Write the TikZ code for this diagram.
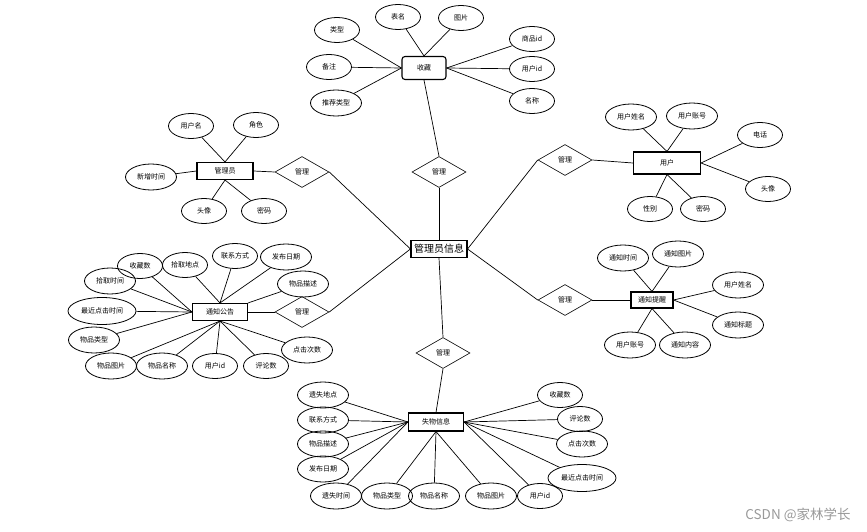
\documentclass[tikz,border=0pt]{standalone}
\usepackage{fontspec}
\setmainfont{Noto Sans CJK SC}
\usetikzlibrary{shapes.geometric}
\begin{document}
\begin{tikzpicture}[x=1pt,y=-1pt,
 attr/.style={ellipse,draw,line width=0.8pt,minimum width=45pt,minimum height=25pt,inner sep=0pt,font=\fontsize{7}{8}\selectfont},
 attrw/.style={attr,minimum width=51pt,minimum height=26pt},
 attrww/.style={attr,minimum width=68pt,minimum height=27pt},
 ent/.style={draw,line width=1.1pt,inner sep=0pt,font=\fontsize{7}{8}\selectfont},
 rel/.style={diamond,draw,line width=0.6pt,minimum width=54pt,minimum height=31pt,inner sep=0pt,aspect=1.7,font=\fontsize{7}{8}\selectfont},
 link/.style={draw,line width=0.7pt}]
\useasboundingbox (0,0) rectangle (867,532);

% centre
\node[ent,minimum width=56pt,minimum height=17pt,font=\fontsize{10}{11}\selectfont] (c) at (439,249) {管理员信息};
\node[rel] (rt) at (439,172) {管理};
\node[rel] (rb) at (443,353) {管理};
\node[rel] (rl1) at (302,172) {管理};
\node[rel] (rl2) at (302,312) {管理};
\node[rel] (rr1) at (565,160) {管理};
\node[rel] (rr2) at (565,300) {管理};

\draw[link] (c.north) -- (rt.south);
\draw[link] (c.south) -- (rb.north);
\draw[link] (c.west) -- (rl1.east);
\draw[link] (c.west) -- (rl2.east);
\draw[link] (c.east) -- (rr1.west);
\draw[link] (c.east) -- (rr2.west);

% 收藏
\node[ent,rounded corners=3pt,minimum width=44pt,minimum height=23pt] (sc) at (424,68) {收藏};
\draw[link] (sc.south) -- (rt.north);
\node[attr] (sc1) at (337,30) {类型};
\node[attr] (sc2) at (398,17) {表名};
\node[attr] (sc3) at (461,18) {图片};
\node[attr] (sc4) at (329,67) {备注};
\node[attrw] (sc5) at (336,103) {推荐类型};
\node[attr] (sc6) at (532,39) {商品id};
\node[attr] (sc7) at (532,69) {用户id};
\node[attr] (sc8) at (532,101) {名称};
\foreach \n in {sc1,sc4,sc5} \draw[link] (\n) -- (sc.west);
\foreach \n in {sc2,sc3} \draw[link] (\n) -- (sc.north);
\foreach \n in {sc6,sc7,sc8} \draw[link] (\n) -- (sc.east);

% 管理员
\node[ent,minimum width=56pt,minimum height=17pt] (gl) at (225,171) {管理员};
\draw[link] (gl.east) -- (rl1.west);
\node[attr] (gl1) at (191,126) {用户名};
\node[attr] (gl2) at (256,125) {角色};
\node[attrw] (gl3) at (151,177) {新增时间};
\node[attr] (gl4) at (204,211) {头像};
\node[attr] (gl5) at (264,211) {密码};
\foreach \n in {gl1,gl2} \draw[link] (\n) -- (gl.north);
\draw[link] (gl3) -- (gl.west);
\foreach \n in {gl4,gl5} \draw[link] (\n) -- (gl.south);

% 用户
\node[ent,minimum width=67pt,minimum height=22pt] (yh) at (667,163) {用户};
\draw[link] (rr1.east) -- (yh.west);
\node[attrw] (yh1) at (631,117) {用户姓名};
\node[attrw] (yh2) at (692,116) {用户账号};
\node[attr] (yh3) at (760,135) {电话};
\node[attr] (yh4) at (768,189) {头像};
\node[attr] (yh5) at (650,209) {性别};
\node[attr] (yh6) at (703,209) {密码};
\foreach \n in {yh1,yh2} \draw[link] (\n) -- (yh.north);
\foreach \n in {yh3,yh4} \draw[link] (\n) -- (yh.east);
\foreach \n in {yh5,yh6} \draw[link] (\n) -- (yh.south);

% 通知公告
\node[ent,minimum width=55pt,minimum height=17pt] (gg) at (220,312) {通知公告};
\draw[link] (gg.east) -- (rl2.west);
\node[attr] (gg1) at (140,266) {收藏数};
\node[attr] (gg2) at (185,265) {拾取地点};
\node[attr] (gg3) at (235,256) {联系方式};
\node[attrw] (gg4) at (286,257) {发布日期};
\node[attrw] (gg5) at (110,281) {拾取时间};
\node[attrw] (gg6) at (303,284) {物品描述};
\node[attrww] (gg7) at (102,311) {最近点击时间};
\node[attrw] (gg8) at (94,340) {物品类型};
\node[attrw] (gg9) at (111,366) {物品图片};
\node[attrw] (gg10) at (162,366) {物品名称};
\node[attr] (gg11) at (215,366) {用户id};
\node[attr] (gg12) at (266,366) {评论数};
\node[attrw] (gg13) at (307,350) {点击次数};
\foreach \n in {gg1,gg5,gg7,gg8} \draw[link] (\n) -- (gg.west);
\foreach \n in {gg2,gg3,gg4} \draw[link] (\n) -- (gg.north);
\draw[link] (gg6) -- (gg.north east);
\foreach \n in {gg9,gg10,gg11,gg12,gg13} \draw[link] (\n) -- (gg.south);

% 通知提醒
\node[ent,minimum width=42pt,minimum height=16pt] (tx) at (652,300) {通知提醒};
\draw[link] (rr2.east) -- (tx.west);
\node[attrw] (tx1) at (623,258) {通知时间};
\node[attrw] (tx2) at (678,254) {通知图片};
\node[attrw] (tx3) at (738,285) {用户姓名};
\node[attrw] (tx4) at (738,325) {通知标题};
\node[attrw] (tx5) at (630,345) {用户账号};
\node[attrw] (tx6) at (685,345) {通知内容};
\foreach \n in {tx1,tx2} \draw[link] (\n) -- (tx.north);
\foreach \n in {tx3,tx4} \draw[link] (\n) -- (tx.east);
\foreach \n in {tx5,tx6} \draw[link] (\n) -- (tx.south);

% 失物信息
\node[ent,minimum width=55pt,minimum height=18pt] (sw) at (436,422) {失物信息};
\draw[link] (rb.south) -- (sw.north);
\node[attrw] (sw1) at (323,395) {遗失地点};
\node[attrw] (sw2) at (323,420) {联系方式};
\node[attrw] (sw3) at (323,444) {物品描述};
\node[attrw] (sw4) at (323,469) {发布日期};
\node[attrw] (sw5) at (336,496) {遗失时间};
\node[attrw] (sw6) at (387,496) {物品类型};
\node[attrw] (sw7) at (434,496) {物品名称};
\node[attrw] (sw8) at (491,496) {物品图片};
\node[attr] (sw9) at (540,496) {用户id};
\node[attr] (sw10) at (560,395) {收藏数};
\node[attr] (sw11) at (580,419) {评论数};
\node[attrw] (sw12) at (582,444) {点击次数};
\node[attrww] (sw13) at (582,478) {最近点击时间};
\foreach \n in {sw1,sw2,sw3,sw4,sw5} \draw[link] (\n) -- (sw.west);
\foreach \n in {sw6,sw7,sw8} \draw[link] (\n) -- (sw.south);
\foreach \n in {sw9,sw10,sw11,sw12,sw13} \draw[link] (\n) -- (sw.east);

% watermark
\node[text=black!40,font=\fontsize{13.5}{15}\selectfont,inner sep=0pt] (wm) at (798,515) {CSDN @家林学长};
\end{tikzpicture}
\end{document}
